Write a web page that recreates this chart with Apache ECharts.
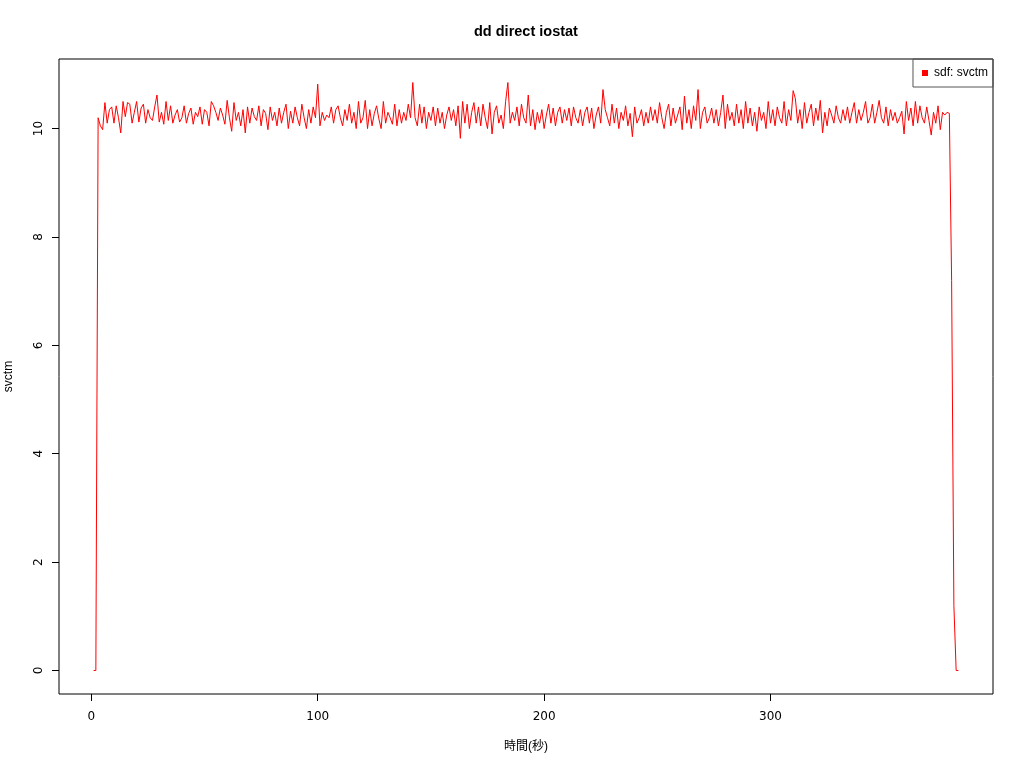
<!DOCTYPE html>
<html>
<head>
<meta charset="utf-8">
<script src="https://cdn.jsdelivr.net/npm/echarts@6/dist/echarts.min.js"></script>
<style>
html,body{margin:0;padding:0;background:#fff;}
#chart{width:1024px;height:768px;}
</style>
</head>
<body>
<div id="chart"></div>
<script>
const titleText = 'dd direct iostat';
const seriesName = 'sdf: svctm';
const xName = '時間(秒)';
const yName = 'svctm';
const xTicks = [0, 100, 200, 300];
const yTicks = [0, 2, 4, 6, 8, 10];
const firstTime = 1;
const svctm = [
  0, 0,
  10.2, 10.05, 9.98, 10.48, 10.1, 10.35, 10.4, 10.1, 10.42, 10.2,
  9.92, 10.5, 10.22, 10.48, 10.45, 10.1, 10.3, 10.5, 10.12, 10.38,
  10.45, 10.1, 10.35, 10.2, 10.15, 10.4, 10.62, 10.12, 10.3, 10.08,
  10.5, 10.15, 10.42, 10.1, 10.25, 10.35, 10.12, 10.2, 10.42, 10.1,
  10.28, 10.38, 10.08, 10.3, 10.22, 10.4, 10.08, 10.35, 10.3, 10.05,
  10.5, 10.42, 10.3, 10.15, 10.38, 10.25, 10.08, 10.52, 10.2, 9.95,
  10.48, 10.15, 10.3, 10.05, 10.35, 9.92, 10.4, 10.1, 10.38, 10.22,
  10.15, 10.42, 10.05, 10.35, 10.28, 9.98, 10.4, 10.15, 10.3, 10.05,
  10.38, 10.1, 10.3, 10.45, 10.0, 10.32, 10.1, 10.4, 10.2, 10.05,
  10.45, 10.2, 10.0, 10.35, 10.1, 10.4, 10.2, 10.82, 10.05, 10.3,
  10.15, 10.25, 10.2, 10.4, 10.1, 10.35, 10.42, 10.2, 10.05, 10.35,
  10.15, 10.45, 10.1, 10.3, 10.0, 10.5, 10.1, 10.2, 10.52, 10.0,
  10.35, 10.05, 10.28, 10.42, 10.18, 10.0, 10.5, 10.1, 10.3, 10.2,
  10.08, 10.45, 10.05, 10.35, 10.1, 10.3, 10.15, 10.45, 10.2, 10.85,
  10.2, 10.05, 10.45, 10.1, 10.4, 10.0, 10.3, 10.15, 10.4, 10.05,
  10.38, 10.1, 10.3, 10.0, 10.25, 10.4, 10.15, 10.35, 10.05, 10.42,
  9.82, 10.5, 10.1, 10.45, 10.0, 10.3, 10.48, 10.1, 10.4, 10.05,
  10.45, 10.2, 10.0, 10.48, 9.9, 10.3, 10.42, 10.1, 10.25, 10.0,
  10.5, 10.85, 10.1, 10.3, 10.15, 10.4, 10.05, 10.45, 10.2, 10.1,
  10.62, 10.05, 10.35, 9.98, 10.3, 10.1, 10.35, 10.0, 10.25, 10.45,
  10.1, 10.38, 10.05, 10.3, 10.4, 10.1, 10.35, 10.15, 10.38, 10.05,
  10.4, 10.2, 10.1, 10.35, 10.05, 10.3, 10.4, 10.1, 10.38, 10.0,
  10.25, 10.4, 10.1, 10.72, 10.35, 10.2, 10.05, 10.45, 10.1, 10.38,
  10.0, 10.3, 10.15, 10.42, 10.05, 10.28, 9.85, 10.4, 10.1, 10.2,
  10.35, 10.05, 10.3, 10.1, 10.4, 10.15, 10.35, 10.1, 10.48, 10.2,
  10.0, 10.3, 10.45, 10.05, 10.38, 10.1, 10.25, 10.4, 9.98, 10.6,
  10.1, 10.35, 10.0, 10.42, 10.15, 10.72, 10.0, 10.3, 10.4, 10.1,
  10.2, 10.38, 10.1, 10.35, 10.05, 10.3, 10.62, 10.0, 10.45, 10.15,
  10.3, 10.05, 10.45, 10.1, 10.35, 10.0, 10.5, 10.1, 10.38, 10.05,
  10.3, 9.95, 10.4, 10.15, 10.3, 10.0, 10.5, 10.1, 10.35, 10.05,
  10.4, 10.2, 10.1, 10.5, 10.05, 10.35, 10.15, 10.7, 10.55, 10.1,
  10.35, 10.0, 10.48, 10.1, 10.3, 10.45, 10.05, 10.38, 10.15, 10.52,
  9.92, 10.3, 10.05, 10.38, 10.25, 10.1, 10.42, 10.2, 10.1, 10.35,
  10.15, 10.4, 10.1, 10.3, 10.48, 10.1, 10.35, 10.15, 10.3, 10.5,
  10.1, 10.2, 10.45, 10.1, 10.3, 10.52, 10.2, 10.1, 10.4, 10.05,
  10.35, 10.15, 10.3, 10.1, 10.2, 10.32, 9.9, 10.5, 10.15, 10.38,
  10.05, 10.5, 10.1, 10.42, 10.2, 10.1, 10.4, 10.15, 9.88, 10.3,
  10.1, 10.42, 9.98, 10.3, 10.25, 10.3, 10.28, 7.2, 1.2, 0,
  0
];

const pts = svctm.map((v, i) => [firstTime + i, v]);
const xs = pts.map(p => p[0]);
const xMinD = Math.min(...xs), xMaxD = Math.max(...xs);
const yMinD = Math.min(...svctm), yMaxD = Math.max(...svctm);
const xPad = (xMaxD - xMinD) * 0.04, yPad = (yMaxD - yMinD) * 0.04;

const FONT = '"Liberation Sans", Arial, "Noto Sans CJK JP", sans-serif';
const TICKFONT = '"DejaVu Sans", sans-serif';
const chart = echarts.init(document.getElementById('chart'), null, {renderer: 'canvas'});
chart.setOption({
  animation: false,
  backgroundColor: '#ffffff',
  title: {
    text: titleText,
    left: 469,
    top: 20,
    textStyle: {fontFamily: FONT, fontSize: 14.5, fontWeight: 'bold', color: '#000'}
  },
  legend: {
    data: [{name: seriesName, icon: 'rect'}],
    right: 31,
    top: 59,
    orient: 'vertical',
    itemWidth: 6,
    itemHeight: 6,
    itemGap: 0,
    padding: [8, 5, 8, 9],
    borderColor: '#555',
    borderWidth: 1,
    borderRadius: 0,
    textStyle: {fontFamily: FONT, fontSize: 12, color: '#000', padding: [0, 0, 0, 1]},
    selectedMode: false
  },
  grid: {
    left: 59, top: 59, width: 934, height: 635,
    containLabel: false,
    outerBoundsMode: 'none',
    show: true, borderColor: '#000', borderWidth: 1, backgroundColor: 'transparent'
  },
  xAxis: {
    type: 'value',
    min: xMinD - xPad,
    max: xMaxD + xPad,
    name: xName,
    nameLocation: 'middle',
    nameGap: 47,
    nameTextStyle: {fontFamily: FONT, fontSize: 12, color: '#000'},
    axisLine: {show: false, onZero: false},
    axisTick: {show: true, inside: false, length: 7, customValues: xTicks, lineStyle: {color: '#000'}},
    axisLabel: {show: true, customValues: xTicks, margin: 17, fontFamily: TICKFONT, fontSize: 12, color: '#000'},
    splitLine: {show: false}
  },
  yAxis: {
    type: 'value',
    min: yMinD - yPad,
    max: yMaxD + yPad,
    name: yName,
    nameLocation: 'middle',
    nameGap: 44,
    nameRotate: 90,
    nameTextStyle: {fontFamily: FONT, fontSize: 12, color: '#000'},
    axisLine: {show: false, onZero: false},
    axisTick: {show: true, inside: false, length: 7, customValues: yTicks, lineStyle: {color: '#000'}},
    axisLabel: {show: true, customValues: yTicks, rotate: 90, margin: 14, fontFamily: TICKFONT, fontSize: 12, color: '#000'},
    splitLine: {show: false}
  },
  series: [{
    name: seriesName,
    type: 'line',
    data: pts,
    symbol: 'none',
    lineStyle: {color: '#ff0000', width: 1},
    itemStyle: {color: '#ff0000'}
  }]
});
</script>
</body>
</html>
